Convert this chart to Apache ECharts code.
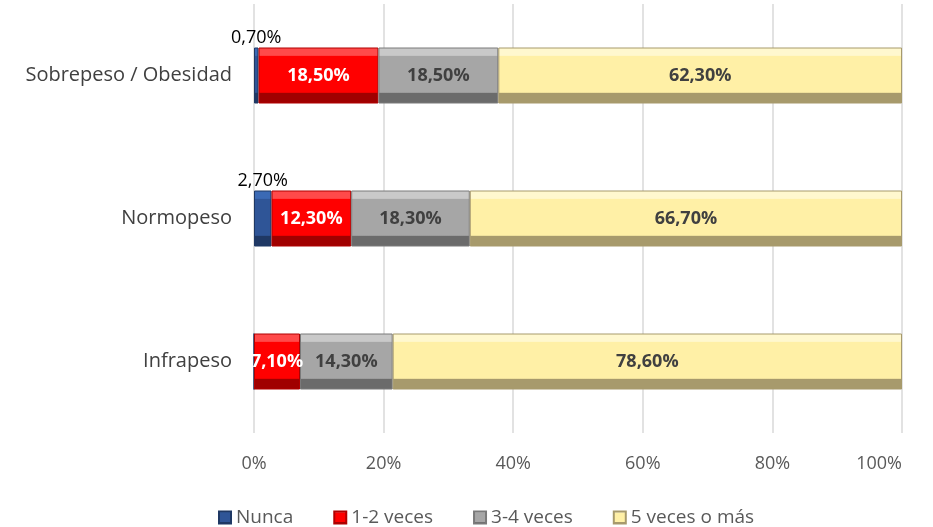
<!DOCTYPE html>
<html>
<head>
<meta charset="utf-8">
<script src="https://cdn.jsdelivr.net/npm/echarts@6/dist/echarts.min.js"></script>
<style>
  html, body { margin: 0; padding: 0; background: #fff; }
  #chart { width: 933px; height: 527px; }
</style>
</head>
<body>
<div id="chart"></div>
<script>
// datos
var categorias = ['Sobrepeso / Obesidad', 'Normopeso', 'Infrapeso'];
var nunca = [0.7, 2.7, 0];
var veces12 = [18.5, 12.3, 7.1];
var veces34 = [18.5, 18.3, 14.3];
var veces5 = [62.3, 66.7, 78.6];
var ticks = ['0%', '20%', '40%', '60%', '80%', '100%'];

// degradado tipo bisel (arriba claro, abajo oscuro)
function bisel(claro, base, oscuro) {
    return new echarts.graphic.LinearGradient(0, 0, 0, 1, [
        { offset: 0, color: claro },
        { offset: 0.14, color: claro },
        { offset: 0.16, color: base },
        { offset: 0.8, color: base },
        { offset: 0.82, color: oscuro },
        { offset: 1, color: oscuro }
    ]);
}

function fmt(p) {
    if (!p.value) return '';
    return p.value.toFixed(2).replace('.', ',') + '%';
}

var fuente = '"Open Sans", "Noto Sans", sans-serif';

function serie(nombre, datos, color, borde, etiqueta) {
    return {
        name: nombre,
        type: 'bar',
        stack: 'total',
        barWidth: 56,
        data: datos,
        itemStyle: { color: color, borderColor: borde, borderWidth: 1 },
        label: etiqueta
    };
}

var chart = echarts.init(document.getElementById('chart'));
chart.setOption({
    animation: false,
    textStyle: { fontFamily: fuente },
    grid: { left: 254, right: 31, top: 4, bottom: 94 },
    legend: {
        top: 503,
        left: 213,
        itemWidth: 12,
        itemHeight: 12,
        itemGap: 40,
        icon: 'rect',
        textStyle: { fontSize: 19, color: '#595959', fontFamily: fuente },
        data: ['Nunca', '1-2 veces', '3-4 veces', '5 veces o más']
    },
    xAxis: {
        type: 'value',
        min: 0,
        max: 100,
        interval: 20,
        axisLabel: {
            fontSize: 18,
            color: '#595959',
            margin: 22,
            alignMaxLabel: 'right',
            formatter: function (v) { return ticks[v / 20]; }
        },
        axisLine: { show: false },
        axisTick: { show: false },
        splitLine: { lineStyle: { color: '#D9D9D9', width: 1.5 } }
    },
    yAxis: {
        type: 'category',
        inverse: true,
        data: categorias,
        axisLabel: { fontSize: 20, color: '#404040', margin: 22 },
        axisLine: { show: false },
        axisTick: { show: false }
    },
    series: [
        serie('Nunca', nunca, bisel('#3B6AB5', '#2F5597', '#1F3864'), '#1F3864', {
            show: true, position: 'top', distance: 1, formatter: fmt,
            fontSize: 18, color: '#000'
        }),
        serie('1-2 veces', veces12, bisel('#FF4A4A', '#FF0000', '#A00000'), '#B00000', {
            show: true, position: 'inside', formatter: fmt,
            fontSize: 18, fontWeight: 'bold', color: '#fff'
        }),
        serie('3-4 veces', veces34, bisel('#C9C9C9', '#A6A6A6', '#6B6B6B'), '#7A7A7A', {
            show: true, position: 'inside', formatter: fmt,
            fontSize: 18, fontWeight: 'bold', color: '#404040'
        }),
        serie('5 veces o más', veces5, bisel('#FFF8CF', '#FFF0A6', '#A79A6C'), '#A79A6C', {
            show: true, position: 'inside', formatter: fmt,
            fontSize: 18, fontWeight: 'bold', color: '#404040'
        })
    ]
});
</script>
</body>
</html>
